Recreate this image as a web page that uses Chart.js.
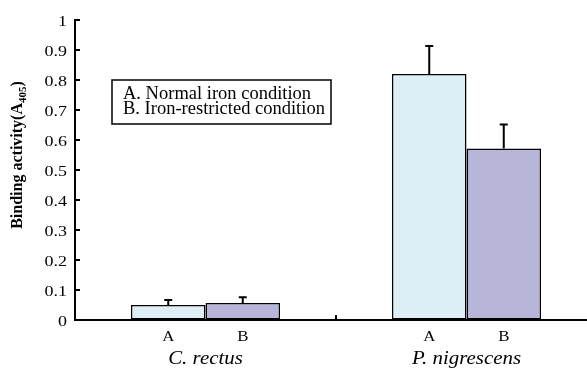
<!DOCTYPE html>
<html>
<head>
<meta charset="utf-8">
<script src="https://cdn.jsdelivr.net/npm/chart.js@4"></script>
<style>
  html, body { margin: 0; padding: 0; background: #fff; overflow: hidden; }
  #wrap { width: 597px; height: 369px; }
</style>
</head>
<body>
<div id="wrap"><canvas id="myChart"></canvas></div>
<script>
// species on the x axis
const groups = ['C. rectus', 'P. nigrescens'];
const condLabels = ['A', 'B'];
const legendLines = ['A. Normal iron condition', 'B. Iron-restricted condition'];

// A405 values
const normalIron = [0.05, 0.82];
const normalIronErr = [0.017, 0.093];
const ironRestricted = [0.057, 0.572];
const ironRestrictedErr = [0.019, 0.08];

const yTicks = [0, 0.1, 0.2, 0.3, 0.4, 0.5, 0.6, 0.7, 0.8, 0.9, 1];

const serif = '"Liberation Serif", "Times New Roman", serif';
const stretch = 1.16; // the original figure is a bit wide

// draw text stretched horizontally
function wideText(ctx, txt, x, y, font, align) {
    ctx.save();
    ctx.font = font;
    const w = ctx.measureText(txt).width * stretch;
    let left = x;
    if (align === 'center') left = x - w / 2;
    if (align === 'right') left = x - w;
    ctx.translate(left, y);
    ctx.scale(stretch, 1);
    ctx.textAlign = 'left';
    ctx.fillText(txt, 0, 0);
    ctx.restore();
}

function fmt(v) {
    if (v === 0) return '0';
    if (v === 1) return '1';
    return v.toFixed(1);
}

// error bars, inward ticks, legend box, labels
const extras = {
    id: 'extras',
    afterDatasetsDraw(chart) {
        const ctx = chart.ctx;
        const y = chart.scales.y;
        const x = chart.scales.x;
        const area = chart.chartArea;
        const errs = [normalIronErr, ironRestrictedErr];

        ctx.save();
        ctx.strokeStyle = '#000';
        ctx.fillStyle = '#000';
        ctx.lineWidth = 2;

        // error bars (upper only)
        chart.data.datasets.forEach((ds, di) => {
            const meta = chart.getDatasetMeta(di);
            meta.data.forEach((bar, i) => {
                const top = y.getPixelForValue(ds.data[i]);
                const cap = y.getPixelForValue(ds.data[i] + errs[di][i]);
                ctx.beginPath();
                ctx.moveTo(bar.x, top);
                ctx.lineTo(bar.x, cap);
                ctx.moveTo(bar.x - 4, cap);
                ctx.lineTo(bar.x + 4, cap);
                ctx.stroke();
            });
        });

        // inward y ticks + labels
        ctx.textBaseline = 'alphabetic';
        yTicks.forEach(v => {
            const py = y.getPixelForValue(v);
            ctx.beginPath();
            ctx.moveTo(area.left, py);
            ctx.lineTo(area.left + 5, py);
            ctx.stroke();
            wideText(ctx, fmt(v), area.left - 8, py + 5.5, '15.5px ' + serif, 'right');
        });

        // divider tick between groups
        const mid = (x.getPixelForValue(0) + x.getPixelForValue(1)) / 2;
        ctx.beginPath();
        ctx.moveTo(mid, area.bottom);
        ctx.lineTo(mid, area.bottom - 5);
        ctx.stroke();

        // legend box
        ctx.lineWidth = 1.5;
        ctx.strokeRect(112, 80, 219, 44);
        ctx.font = '18.5px ' + serif;
        ctx.textAlign = 'left';
        ctx.fillText(legendLines[0], 123, 99);
        ctx.fillText(legendLines[1], 123, 114);

        // A / B under each bar, species names below
        chart.data.datasets.forEach((ds, di) => {
            const meta = chart.getDatasetMeta(di);
            meta.data.forEach(bar => {
                wideText(ctx, condLabels[di], bar.x, 340.5, '14.5px ' + serif, 'center');
            });
        });
        groups.forEach((g, i) => {
            wideText(ctx, g, x.getPixelForValue(i), 364, 'italic 18px ' + serif, 'center');
        });

        // rotated y title with subscript
        ctx.translate(22, 155);
        ctx.rotate(-Math.PI / 2);
        const main = 'Binding activity(A';
        const sub = '405';
        ctx.font = 'bold 16px ' + serif;
        const w1 = ctx.measureText(main).width;
        const w3 = ctx.measureText(')').width;
        ctx.font = 'bold 11px ' + serif;
        const w2 = ctx.measureText(sub).width;
        let cx = -(w1 + w2 + w3) / 2;
        ctx.textAlign = 'left';
        ctx.font = 'bold 16px ' + serif;
        ctx.fillText(main, cx, 0);
        cx += w1;
        ctx.font = 'bold 11px ' + serif;
        ctx.fillText(sub, cx, 4);
        cx += w2;
        ctx.font = 'bold 16px ' + serif;
        ctx.fillText(')', cx, 0);
        ctx.restore();
    }
};

const ctx = document.getElementById('myChart');

new Chart(ctx, {
    type: 'bar',
    data: {
        labels: groups,
        datasets: [{
            label: legendLines[0],
            data: normalIron,
            backgroundColor: '#ddeef6',
            borderColor: '#000',
            borderWidth: 1.5,
            borderSkipped: false
        }, {
            label: legendLines[1],
            data: ironRestricted,
            backgroundColor: '#b7b6d8',
            borderColor: '#000',
            borderWidth: 1.5,
            borderSkipped: false
        }]
    },
    options: {
        responsive: true,
        maintainAspectRatio: false,
        animation: false,
        layout: { padding: { top: 20, right: 0, bottom: 0, left: 0 } },
        categoryPercentage: 0.571,
        barPercentage: 1,
        plugins: {
            legend: { display: false },
            tooltip: { enabled: false }
        },
        scales: {
            x: {
                ticks: { display: false },
                grid: { display: false },
                border: { display: true, color: '#000', width: 2 },
                afterFit: s => { s.height = 49; }
            },
            y: {
                min: 0,
                max: 1,
                ticks: { display: false, stepSize: 0.1 },
                grid: { drawOnChartArea: false, drawTicks: false },
                border: { display: true, color: '#000', width: 2 },
                afterFit: s => { s.width = 75; }
            }
        }
    },
    plugins: [extras]
});
</script>
</body>
</html>
